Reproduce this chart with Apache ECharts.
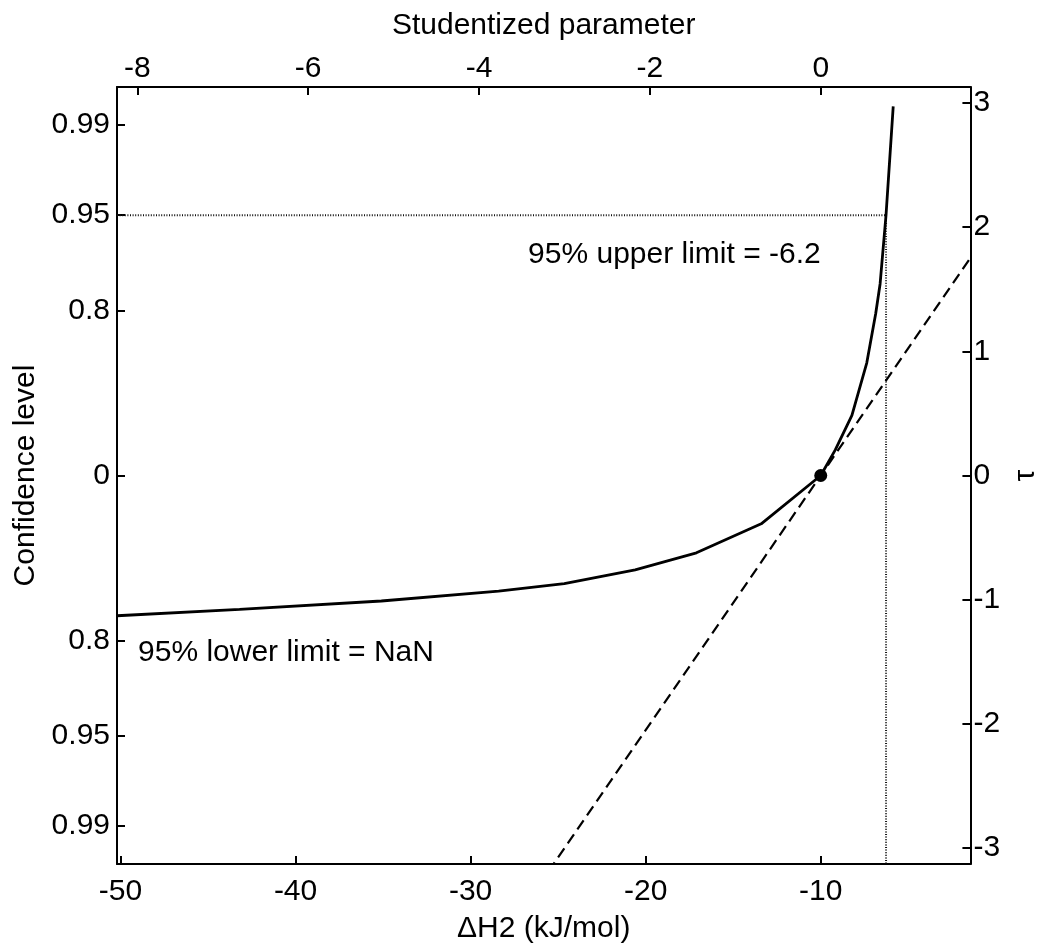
<!DOCTYPE html>
<html>
<head>
<meta charset="utf-8">
<script src="https://cdn.jsdelivr.net/npm/echarts@6/dist/echarts.min.js"></script>
<style>
html,body{margin:0;padding:0;background:#fff;}
#chart{width:1049px;height:949px;}
</style>
</head>
<body>
<div id="chart"></div>
<script>
// ---- data ----
const dH2Profile = [-50.2, -43.2, -35.1, -28.4, -24.65, -20.6, -17.1, -13.4, -10.0, -9.17, -8.22, -7.37, -6.86, -6.61, -6.27, -5.86];
const tauProfile = [-1.129, -1.077, -1.010, -0.931, -0.871, -0.760, -0.622, -0.389, 0.0, 0.206, 0.484, 0.907, 1.304, 1.542, 2.098, 2.971];
const dashStud = [-3.3, 1.9];
const dashTau = [-3.3, 1.9];
const estimate = [-10.0, 0.0];
const upperLimit95 = -6.27;
const tau95 = 2.095;
const bottomTicks = [-50, -40, -30, -20, -10];
const topTicks = [-8, -6, -4, -2, 0];
const rightTicks = [-3, -2, -1, 0, 1, 2, 3];
const confTickTau = [-2.82, -2.095, -1.33, 0, 1.33, 2.095, 2.82];
const confTickLabels = ['0.99', '0.95', '0.8', '0', '0.8', '0.95', '0.99'];
const xMin = -50.2, xMax = -1.45;
const tauMin = -3.127, tauMax = 3.127;
const stdErr = 4.88;
const upperText = '95% upper limit = -6.2';
const lowerText = '95% lower limit = NaN';
const upperTextAt = [-10.0, 1.78];
const lowerTextAt = [-49.0, -1.43];

// ---- chart ----
const FONT = "'Liberation Sans', Arial, sans-serif";
const FS = 30;
const txt = {color: '#000', fontFamily: FONT, fontSize: FS};
const studMin = (xMin - estimate[0]) / stdErr;
const studMax = (xMax - estimate[0]) / stdErr;
const axLine = {show: true, onZero: false, lineStyle: {color: '#000', width: 2}};
const tick = (vals) => ({show: true, inside: true, length: 8, lineStyle: {color: '#000', width: 2}, customValues: vals});

const chart = echarts.init(document.getElementById('chart'), null, {renderer: 'canvas'});
chart.setOption({
  animation: false,
  backgroundColor: '#fff',
  grid: {left: 117, right: 73, top: 87, bottom: 74, containLabel: false},
  xAxis: [
    {type: 'value', position: 'bottom', min: xMin, max: xMax,
     name: 'ΔH2 (kJ/mol)', nameLocation: 'middle', nameGap: 50, nameTextStyle: txt,
     axisLine: axLine, axisTick: tick(bottomTicks), splitLine: {show: false},
     axisLabel: Object.assign({margin: 13, customValues: bottomTicks}, txt)},
    {type: 'value', position: 'top', min: studMin, max: studMax,
     name: 'Studentized parameter', nameLocation: 'middle', nameGap: 46, nameTextStyle: txt,
     axisLine: axLine, axisTick: tick(topTicks), splitLine: {show: false},
     axisLabel: Object.assign({margin: 3, customValues: topTicks}, txt)}
  ],
  yAxis: [
    {type: 'value', position: 'left', min: tauMin, max: tauMax,
     name: 'Confidence level', nameLocation: 'middle', nameGap: 72, nameRotate: 90, nameTextStyle: txt,
     axisLine: axLine, axisTick: tick(confTickTau), splitLine: {show: false},
     axisLabel: Object.assign({margin: 7, customValues: confTickTau,
       formatter: function (v) {
         let best = 0;
         for (let i = 0; i < confTickTau.length; i++) {
           if (Math.abs(confTickTau[i] - v) < Math.abs(confTickTau[best] - v)) best = i;
         }
         return confTickLabels[best];
       }}, txt)},
    {type: 'value', position: 'right', min: tauMin, max: tauMax,
     name: 'τ', nameLocation: 'middle', nameGap: 37, nameRotate: 90, nameTextStyle: txt,
     axisLine: axLine, axisTick: tick(rightTicks), splitLine: {show: false},
     axisLabel: Object.assign({margin: 3, customValues: rightTicks}, txt)}
  ],
  series: [
    {type: 'line', name: 'dotted-h', xAxisIndex: 0, yAxisIndex: 1, symbol: 'none', silent: true,
     lineStyle: {color: '#111', width: 2, type: [1, 1.6]},
     data: [[xMin, tau95], [upperLimit95, tau95]]},
    {type: 'line', name: 'dotted-v', xAxisIndex: 0, yAxisIndex: 1, symbol: 'none', silent: true,
     lineStyle: {color: '#111', width: 2, type: [1, 1.6]},
     data: [[upperLimit95, tau95], [upperLimit95, tauMin]]},
    {type: 'line', name: 'linear', xAxisIndex: 1, yAxisIndex: 1, symbol: 'none', clip: true,
     lineStyle: {color: '#000', width: 2.2, type: [11, 6]},
     data: dashStud.map((s, i) => [s, dashTau[i]])},
    {type: 'line', name: 'profile', xAxisIndex: 0, yAxisIndex: 1, symbol: 'none', clip: true,
     lineStyle: {color: '#000', width: 2.8},
     data: dH2Profile.map((x, i) => [x, tauProfile[i]])},
    {type: 'scatter', name: 'estimate', xAxisIndex: 0, yAxisIndex: 1, symbol: 'circle', symbolSize: 13,
     itemStyle: {color: '#000', opacity: 1}, data: [estimate]},
    {type: 'scatter', name: 'notes', xAxisIndex: 0, yAxisIndex: 1, symbolSize: 0, silent: true,
     itemStyle: {opacity: 1},
     data: [
       {value: upperTextAt, label: {show: true, position: 'left', distance: 0, formatter: upperText, color: '#000', opacity: 1, fontFamily: FONT, fontSize: FS}},
       {value: lowerTextAt, label: {show: true, position: 'right', distance: 0, formatter: lowerText, color: '#000', opacity: 1, fontFamily: FONT, fontSize: FS}}
     ]}
  ]
});
</script>
</body>
</html>
